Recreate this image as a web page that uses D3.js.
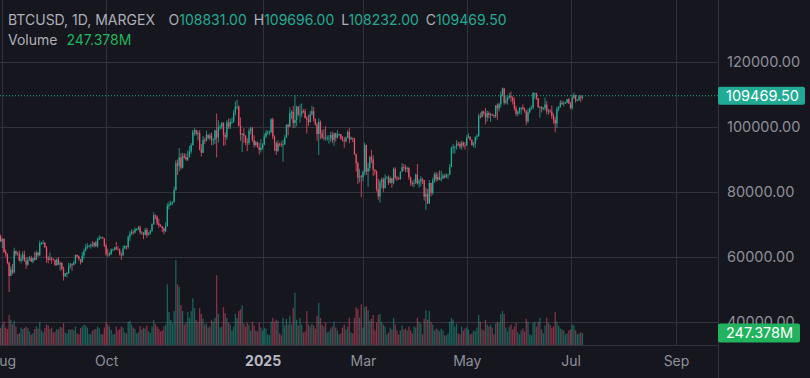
<!DOCTYPE html>
<html>
<head>
<meta charset="utf-8">
<script src="https://cdn.jsdelivr.net/npm/d3@7"></script>
<style>
  body { margin: 0; background: #16161e; }
  svg { display: block; font-family: Inter, "Noto Sans", sans-serif; }
</style>
</head>
<body>
<div id="chart"></div>
<script>
// daily candles from 29 Jul 2024, prices in thousands USD, open = previous close
const startDate = Date.UTC(2024, 6, 29);
const firstOpen = 68.2;

const closes = [
  66.8, 66.2, 64.6,
  // Aug
  65.4, 61.4, 60.7, 58.1, 54.0, 56.0, 55.1, 61.7, 60.8, 60.9, 58.7, 59.3, 60.6, 58.7, 57.5, 58.9, 59.5, 58.4, 59.5, 59.0, 61.2, 60.4, 64.1, 64.2, 64.2, 62.8, 59.5, 59.0, 59.4, 59.1, 58.9,
  // Sep
  57.3, 59.1, 57.5, 58.0, 56.2, 53.9, 54.8, 54.9, 57.0, 57.6, 57.3, 58.1, 60.5, 60.0, 59.2, 58.2, 60.3, 61.7, 62.9, 63.2, 63.3, 63.6, 63.3, 64.3, 63.2, 65.2, 65.8, 65.9, 65.6, 63.3,
  // Oct
  60.8, 60.6, 60.7, 62.1, 62.1, 62.8, 62.2, 62.1, 60.6, 60.3, 62.4, 63.2, 62.9, 66.0, 67.0, 67.6, 67.4, 68.4, 68.4, 69.0, 67.4, 67.4, 66.7, 68.2, 66.6, 67.0, 67.9, 69.9, 72.7, 72.3, 70.2,
  // Nov
  69.5, 69.3, 68.7, 67.8, 69.4, 75.6, 76.0, 76.5, 76.7, 80.4, 88.7, 87.9, 90.5, 87.3, 91.0, 90.6, 89.8, 90.5, 92.3, 94.3, 98.4, 98.9, 97.7, 98.0, 93.0, 91.9, 95.9, 95.6, 97.5, 96.4,
  // Dec
  97.2, 95.9, 96.0, 98.8, 96.6, 99.9, 99.9, 101.2, 97.4, 96.7, 101.2, 100.0, 101.4, 101.4, 104.3, 106.1, 106.1, 100.2, 97.5, 97.8, 97.2, 95.2, 94.9, 98.7, 99.4, 95.8, 94.3, 95.3, 93.7, 92.8, 93.4,
  // Jan
  94.4, 96.9, 98.1, 98.2, 98.3, 102.2, 96.9, 95.0, 92.5, 94.7, 94.6, 94.5, 94.5, 96.5, 100.5, 99.9, 104.1, 104.5, 101.1, 102.0, 106.1, 103.7, 103.9, 104.8, 104.7, 102.6, 102.1, 101.3, 103.7, 104.7, 102.4,
  // Feb
  100.6, 97.7, 101.4, 97.9, 96.6, 96.6, 96.5, 96.5, 96.5, 97.4, 95.8, 97.9, 96.6, 97.5, 97.6, 96.1, 95.8, 95.5, 96.6, 98.3, 96.1, 96.6, 96.3, 91.5, 88.7, 84.3, 84.7, 84.4,
  // Mar
  86.0, 94.3, 86.1, 87.2, 90.6, 89.9, 86.7, 86.2, 80.7, 78.5, 82.9, 83.7, 81.1, 84.0, 84.3, 82.6, 84.1, 82.7, 86.9, 84.2, 84.0, 83.8, 86.1, 87.5, 87.4, 86.9, 87.2, 84.4, 82.6, 82.4, 82.5,
  // Apr
  85.2, 82.5, 83.1, 83.8, 83.5, 78.4, 79.2, 76.3, 82.6, 79.6, 83.4, 85.3, 83.7, 84.5, 83.6, 84.0, 84.9, 84.4, 85.1, 85.2, 87.5, 93.4, 93.7, 93.9, 94.7, 94.6, 93.8, 95.0, 94.3, 94.2,
  // May
  96.5, 96.9, 95.9, 94.3, 94.7, 96.8, 97.0, 103.2, 102.9, 104.6, 104.1, 102.8, 104.1, 103.5, 103.7, 103.5, 103.2, 106.5, 105.6, 106.8, 109.6, 111.7, 107.3, 108.0, 109.0, 109.4, 108.9, 107.8, 105.6, 103.9, 104.6,
  // Jun
  105.7, 105.8, 105.4, 104.7, 101.6, 104.4, 105.6, 105.8, 110.3, 110.3, 108.7, 105.9, 106.1, 105.4, 105.6, 106.8, 104.6, 104.9, 104.6, 103.3, 102.1, 100.9, 105.4, 106.0, 107.3, 106.9, 107.1, 107.4, 108.4, 107.1,
  // Jul
  105.7, 108.8, 109.6, 108.0, 108.2, 109.2, 108.831, 109.4695
];

const highs = [
  70.0, 66.9, 66.8,
  65.6, 65.6, 62.2, 61.0, 58.3, 57.0, 57.7, 62.7, 61.8, 61.5, 61.8, 60.6, 61.6, 61.8, 59.8, 59.8, 60.2, 60.2, 59.6, 61.4, 61.8, 61.4, 64.9, 64.5, 65.0, 64.5, 63.2, 60.2, 61.2, 59.9, 59.4,
  59.1, 59.4, 59.8, 58.5, 58.3, 56.9, 54.9, 55.3, 58.1, 58.0, 57.9, 58.6, 60.6, 60.6, 60.3, 59.2, 61.3, 62.4, 63.8, 64.1, 63.6, 64.0, 64.7, 64.4, 64.8, 65.8, 66.5, 66.2, 66.1, 65.6,
  64.0, 62.4, 61.4, 62.5, 62.4, 63.0, 64.5, 63.2, 62.5, 61.3, 63.4, 63.5, 63.3, 66.5, 67.8, 68.4, 68.0, 68.9, 68.7, 69.4, 69.5, 67.8, 67.4, 68.8, 68.8, 67.5, 68.2, 70.2, 73.6, 72.9, 72.6,
  71.6, 70.0, 69.4, 69.0, 70.5, 76.4, 76.9, 77.2, 76.9, 81.5, 89.6, 89.9, 93.4, 91.8, 91.9, 91.8, 91.6, 92.6, 94.0, 94.9, 99.0, 99.5, 99.0, 98.7, 98.9, 94.6, 97.0, 96.6, 98.7, 97.5,
  97.9, 98.2, 96.3, 99.0, 104.0, 101.9, 100.6, 101.4, 101.2, 98.2, 101.9, 102.5, 102.4, 102.7, 105.1, 107.7, 108.3, 106.5, 102.8, 98.0, 99.5, 97.3, 96.4, 99.4, 99.9, 99.9, 97.3, 95.5, 95.2, 94.9, 96.1,
  94.9, 97.8, 98.9, 98.8, 98.8, 102.5, 102.7, 97.3, 95.3, 95.8, 95.0, 95.4, 95.9, 97.3, 100.7, 100.9, 105.9, 105.0, 106.3, 109.6, 106.4, 106.3, 106.8, 107.1, 105.3, 105.5, 103.2, 103.7, 104.8, 106.4, 106.0,
  102.3, 101.2, 102.5, 101.9, 99.0, 99.2, 100.1, 97.3, 97.4, 98.3, 98.5, 98.1, 98.1, 98.8, 97.9, 97.7, 97.1, 96.8, 96.9, 98.8, 99.5, 96.9, 96.5, 96.5, 91.6, 89.2, 87.0, 85.1,
  86.5, 95.0, 94.4, 88.8, 91.0, 92.8, 91.2, 86.8, 86.5, 83.9, 83.6, 84.3, 84.3, 85.3, 84.7, 85.0, 84.7, 84.1, 87.4, 87.4, 84.8, 84.5, 86.2, 88.7, 88.5, 88.2, 87.7, 87.5, 84.6, 83.3, 83.8,
  85.5, 88.5, 83.9, 84.7, 84.2, 83.6, 81.2, 80.8, 83.5, 82.7, 84.2, 85.9, 86.0, 85.8, 86.5, 86.4, 85.5, 85.4, 85.6, 85.3, 88.5, 93.8, 94.7, 94.0, 95.8, 95.3, 95.3, 95.6, 95.4, 95.2,
  97.4, 97.9, 96.9, 96.0, 95.2, 96.9, 97.7, 103.9, 104.3, 104.9, 104.9, 105.7, 104.9, 104.6, 104.2, 104.0, 103.7, 106.6, 107.1, 107.3, 110.8, 112.0, 111.9, 109.6, 109.3, 110.4, 110.7, 109.3, 108.9, 106.3, 104.9,
  105.9, 105.9, 106.8, 105.9, 105.0, 105.4, 105.9, 106.5, 110.6, 110.4, 110.4, 108.8, 106.2, 106.2, 106.0, 108.9, 107.8, 105.5, 105.3, 106.5, 104.0, 103.0, 106.1, 106.3, 108.1, 108.0, 107.8, 107.6, 108.5, 108.8,
  107.5, 109.8, 110.5, 109.8, 108.4, 109.7, 109.7, 109.696
];

const lows = [
  66.5, 65.3, 64.5,
  62.6, 61.1, 59.9, 57.6, 49.1, 54.0, 54.5, 54.8, 60.2, 60.3, 58.5, 57.9, 58.6, 58.4, 56.2, 57.1, 58.7, 58.3, 57.9, 58.7, 58.9, 59.9, 60.1, 63.6, 63.7, 62.7, 58.1, 57.9, 58.8, 57.8, 58.8,
  57.2, 57.2, 57.4, 55.6, 55.7, 52.6, 53.8, 53.6, 54.6, 56.3, 55.6, 57.4, 57.7, 59.6, 58.7, 57.5, 58.2, 59.2, 61.6, 62.4, 62.8, 62.4, 62.9, 62.7, 62.9, 62.7, 65.0, 65.5, 65.4, 62.9,
  60.2, 59.9, 60.1, 60.5, 61.7, 61.8, 62.1, 61.9, 60.3, 58.9, 60.3, 62.4, 62.1, 62.4, 64.8, 66.6, 66.7, 67.1, 67.9, 68.1, 66.8, 66.6, 65.3, 66.5, 65.8, 66.5, 66.8, 67.6, 69.7, 71.4, 69.7,
  68.8, 69.1, 67.5, 66.8, 67.5, 69.1, 74.5, 75.6, 75.8, 76.6, 80.3, 85.1, 86.2, 86.7, 87.1, 90.1, 89.4, 89.4, 90.9, 91.6, 94.1, 97.2, 97.2, 95.7, 92.6, 90.8, 91.9, 94.6, 95.4, 96.1,
  95.7, 94.2, 94.3, 94.6, 90.5, 95.1, 98.9, 99.2, 94.1, 94.2, 95.9, 99.3, 99.2, 100.8, 101.2, 103.4, 105.3, 100.0, 95.6, 92.1, 94.9, 94.2, 92.4, 94.3, 97.6, 95.2, 93.5, 93.9, 93.4, 91.3, 92.0,
  92.8, 94.2, 96.4, 97.5, 97.3, 97.9, 96.1, 92.5, 91.2, 92.2, 93.8, 93.7, 89.2, 94.3, 96.5, 97.3, 100.1, 102.3, 99.5, 99.6, 100.1, 103.1, 101.2, 102.8, 104.1, 102.5, 97.8, 100.2, 101.3, 103.3, 101.5,
  100.3, 95.6, 91.2, 96.1, 96.2, 95.7, 95.7, 95.6, 94.7, 95.3, 94.9, 94.1, 95.3, 96.3, 97.0, 96.0, 95.3, 93.4, 95.1, 96.4, 94.8, 95.8, 95.2, 91.2, 86.1, 82.3, 82.8, 78.2,
  83.2, 85.0, 85.0, 81.4, 86.3, 88.7, 84.7, 85.1, 80.0, 77.5, 76.6, 80.9, 79.9, 80.9, 83.9, 82.0, 82.5, 81.2, 82.2, 83.7, 83.2, 83.6, 83.6, 85.9, 86.3, 85.9, 85.9, 83.6, 81.7, 81.6, 81.3,
  82.4, 82.1, 81.2, 81.6, 82.3, 77.2, 74.4, 76.2, 76.2, 78.5, 78.9, 82.7, 83.0, 83.2, 83.6, 83.1, 83.9, 84.0, 84.1, 83.9, 85.1, 87.5, 91.7, 91.7, 92.9, 93.9, 93.1, 92.9, 93.6, 92.9,
  94.1, 96.4, 95.7, 94.1, 93.6, 93.4, 95.8, 96.9, 102.4, 102.8, 103.4, 100.7, 101.5, 102.5, 101.5, 103.2, 102.6, 102.6, 102.1, 104.7, 105.8, 109.2, 106.7, 106.9, 106.7, 108.5, 107.6, 106.8, 104.9, 103.2, 103.1,
  103.8, 103.7, 105.0, 104.2, 100.4, 101.1, 104.0, 105.1, 105.3, 108.4, 108.2, 105.7, 102.7, 104.3, 104.9, 104.9, 103.7, 103.6, 104.1, 102.4, 100.9, 98.2, 99.6, 104.7, 105.8, 106.6, 106.2, 106.9, 107.1, 106.9,
  105.3, 105.2, 108.5, 107.3, 107.8, 107.9, 107.5, 108.232
];

// volume, millions
const volumes = [
  380, 320, 350,
  420, 480, 360, 330, 620, 520, 430, 500, 380, 220, 250, 360, 330, 350, 380, 350, 280, 210, 240, 330, 380, 340, 470, 300, 260, 350, 420, 400, 330, 360, 260,
  270, 330, 320, 370, 360, 450, 260, 240, 320, 310, 330, 300, 380, 240, 220, 350, 380, 420, 400, 360, 230, 220, 300, 320, 330, 380, 350, 230, 220, 360,
  470, 420, 380, 310, 220, 230, 380, 300, 330, 380, 360, 260, 240, 480, 500, 420, 360, 330, 240, 260, 390, 320, 360, 340, 400, 280, 250, 380, 520, 430, 380,
  330, 280, 300, 380, 420, 1250, 680, 520, 450, 700, 1750, 1250, 1200, 820, 700, 420, 460, 680, 560, 700, 960, 760, 520, 480, 760, 640, 540, 420, 440, 360,
  380, 520, 480, 560, 1440, 640, 360, 380, 780, 660, 560, 460, 420, 300, 380, 640, 560, 700, 740, 820, 440, 380, 460, 420, 300, 480, 400, 300, 280, 460, 360,
  300, 360, 340, 220, 200, 480, 560, 480, 520, 500, 240, 200, 560, 400, 540, 420, 600, 420, 760, 1080, 520, 400, 560, 420, 260, 280, 700, 420, 380, 440, 400,
  340, 600, 870, 560, 420, 380, 460, 260, 280, 340, 380, 480, 360, 300, 220, 240, 360, 420, 320, 380, 560, 260, 240, 560, 780, 740, 560, 840,
  360, 780, 800, 720, 500, 540, 620, 300, 460, 620, 640, 480, 420, 380, 220, 260, 360, 320, 560, 420, 300, 220, 300, 400, 320, 340, 300, 380, 300, 240, 380,
  360, 560, 480, 440, 220, 540, 720, 520, 700, 480, 420, 300, 340, 320, 280, 340, 300, 200, 200, 240, 480, 560, 520, 380, 440, 240, 220, 380, 300, 340,
  360, 320, 220, 240, 300, 280, 360, 620, 480, 320, 300, 520, 420, 380, 420, 360, 220, 440, 480, 460, 640, 700, 640, 360, 280, 380, 420, 320, 380, 460, 260,
  220, 300, 340, 280, 540, 480, 220, 200, 460, 480, 380, 480, 560, 320, 240, 400, 560, 460, 420, 360, 380, 680, 480, 400, 340, 320, 300, 220, 240, 300,
  320, 420, 400, 300, 220, 240, 260, 247.378
];

const priceTicks = [40000, 60000, 80000, 100000, 120000];
const monthTicks = [
  Date.UTC(2024, 7, 1), Date.UTC(2024, 9, 1), Date.UTC(2025, 0, 1), Date.UTC(2025, 2, 1),
  Date.UTC(2025, 4, 1), Date.UTC(2025, 6, 1), Date.UTC(2025, 8, 1)
];
const monthLabels = ["Aug", "Oct", "2025", "Mar", "May", "Jul", "Sep"];

const width = 810, height = 378;
const plotRight = 718, plotBottom = 345;
const up = "#22ab94", down = "#ef4f6b";
const font = "Inter, 'Noto Sans', sans-serif";

const data = closes.map((c, i) => ({
  date: new Date(startDate + i * 864e5),
  open: (i ? closes[i - 1] : firstOpen) * 1000,
  close: c * 1000,
  high: highs[i] * 1000,
  low: lows[i] * 1000,
  vol: volumes[i]
}));
const last = data[data.length - 1];

const svg = d3.select("#chart").append("svg")
  .attr("width", width).attr("height", height);

svg.append("rect").attr("width", width).attr("height", height).attr("fill", "#16161e");

const x = d3.scaleUtc()
  .domain([new Date(monthTicks[0]), new Date(monthTicks[6])])
  .range([2.3, 676]);
const y = d3.scaleLinear().domain([40000, 120000]).range([321.5, 61.5]);
const yVol = d3.scaleLinear().domain([0, last.vol]).range([plotBottom, 333]);

svg.append("clipPath").attr("id", "plot")
  .append("rect").attr("width", plotRight).attr("height", plotBottom);

// grid
const grid = svg.append("g").attr("stroke", "#31323c").attr("stroke-width", 1);
grid.selectAll(".h").data(priceTicks).join("line")
  .attr("x1", 0).attr("x2", plotRight)
  .attr("y1", d => Math.round(y(d)) + 0.5).attr("y2", d => Math.round(y(d)) + 0.5);
grid.selectAll(".v").data(monthTicks).join("line")
  .attr("x1", d => Math.round(x(d)) + 0.5).attr("x2", d => Math.round(x(d)) + 0.5)
  .attr("y1", 0).attr("y2", plotBottom);

const plot = svg.append("g").attr("clip-path", "url(#plot)");

// volume bars
plot.append("g").selectAll("rect").data(data).join("rect")
  .attr("x", d => x(d.date) - 0.65)
  .attr("width", 1.3)
  .attr("y", d => yVol(d.vol))
  .attr("height", d => plotBottom - yVol(d.vol))
  .attr("fill", d => d.close >= d.open ? up : down)
  .attr("opacity", 0.5);

// wicks
plot.append("g").selectAll("line").data(data).join("line")
  .attr("x1", d => x(d.date)).attr("x2", d => x(d.date))
  .attr("y1", d => y(d.high)).attr("y2", d => y(d.low))
  .attr("stroke", d => d.close >= d.open ? up : down)
  .attr("stroke-width", 0.8);

// bodies
plot.append("g").selectAll("rect").data(data).join("rect")
  .attr("x", d => x(d.date) - 0.65)
  .attr("width", 1.3)
  .attr("y", d => y(Math.max(d.open, d.close)))
  .attr("height", d => Math.max(0.8, Math.abs(y(d.open) - y(d.close))))
  .attr("fill", d => d.close >= d.open ? up : down);

// last price dotted line
svg.append("line")
  .attr("x1", 0).attr("x2", plotRight)
  .attr("y1", y(last.close)).attr("y2", y(last.close))
  .attr("stroke", up).attr("stroke-width", 1).attr("stroke-dasharray", "1,2");

// panel separators
svg.append("line").attr("x1", plotRight + 0.5).attr("x2", plotRight + 0.5)
  .attr("y1", 0).attr("y2", height).attr("stroke", "#31323c");
svg.append("line").attr("x1", 0).attr("x2", plotRight)
  .attr("y1", plotBottom + 0.5).attr("y2", plotBottom + 0.5).attr("stroke", "#31323c");

// price axis
const yAxis = svg.append("g")
  .attr("transform", `translate(${plotRight},0)`)
  .call(d3.axisRight(y).tickValues(priceTicks).tickFormat(d3.format(".2f")).tickSize(0).tickPadding(9));
yAxis.select(".domain").remove();
yAxis.selectAll("text").attr("fill", "#8e9099").attr("font-size", "14.5px")
  .attr("font-family", font);

// time axis
const xAxis = svg.append("g")
  .attr("transform", `translate(0,${plotBottom})`)
  .call(d3.axisBottom(x).tickValues(monthTicks.map(d => new Date(d)))
    .tickFormat((d, i) => monthLabels[i]).tickSize(0).tickPadding(11));
xAxis.select(".domain").remove();
xAxis.selectAll("text").attr("fill", "#8e9099").attr("font-size", "14px")
  .attr("font-family", font)
  .filter((d, i) => monthLabels[i] === "2025")
  .attr("fill", "#b8bac2").attr("font-weight", "bold");

// last price label
const priceTag = svg.append("g").attr("transform", `translate(${plotRight},${y(last.close)})`);
priceTag.append("rect").attr("x", 0).attr("y", -9).attr("width", 87).attr("height", 18)
  .attr("rx", 2).attr("fill", up);
priceTag.append("text").attr("x", 8).attr("y", 0).attr("dy", "0.35em")
  .attr("fill", "#ffffff").attr("font-size", "14.5px").text(d3.format(".2f")(last.close));

// volume label
const volTag = svg.append("g").attr("transform", `translate(${plotRight},${yVol(last.vol)})`);
volTag.append("rect").attr("x", 0).attr("y", -9.5).attr("width", 82).attr("height", 19)
  .attr("rx", 2).attr("fill", "#22b35e");
volTag.append("text").attr("x", 8).attr("y", 0).attr("dy", "0.35em")
  .attr("fill", "#ffffff").attr("font-size", "14.5px").text(d3.format(".3f")(last.vol) + "M");

// legend header
const fmt = d3.format(".2f");
const head = svg.append("text").attr("x", 8).attr("y", 25).attr("font-size", "14px")
  .attr("fill", "#aeb0b8").attr("xml:space", "preserve");
head.append("tspan").text("BTCUSD, 1D, MARGEX");
[["O", last.open], ["H", last.high], ["L", last.low], ["C", last.close]].forEach(([k, v], i) => {
  head.append("tspan").attr("dx", i ? 7 : 14).text(k);
  head.append("tspan").attr("fill", up).text(fmt(v));
});
const volHead = svg.append("text").attr("x", 8).attr("y", 45).attr("font-size", "14px").attr("fill", "#aeb0b8");
volHead.append("tspan").text("Volume");
volHead.append("tspan").attr("dx", 9).attr("fill", "#22b35e").text(d3.format(".3f")(last.vol) + "M");
</script>
</body>
</html>
